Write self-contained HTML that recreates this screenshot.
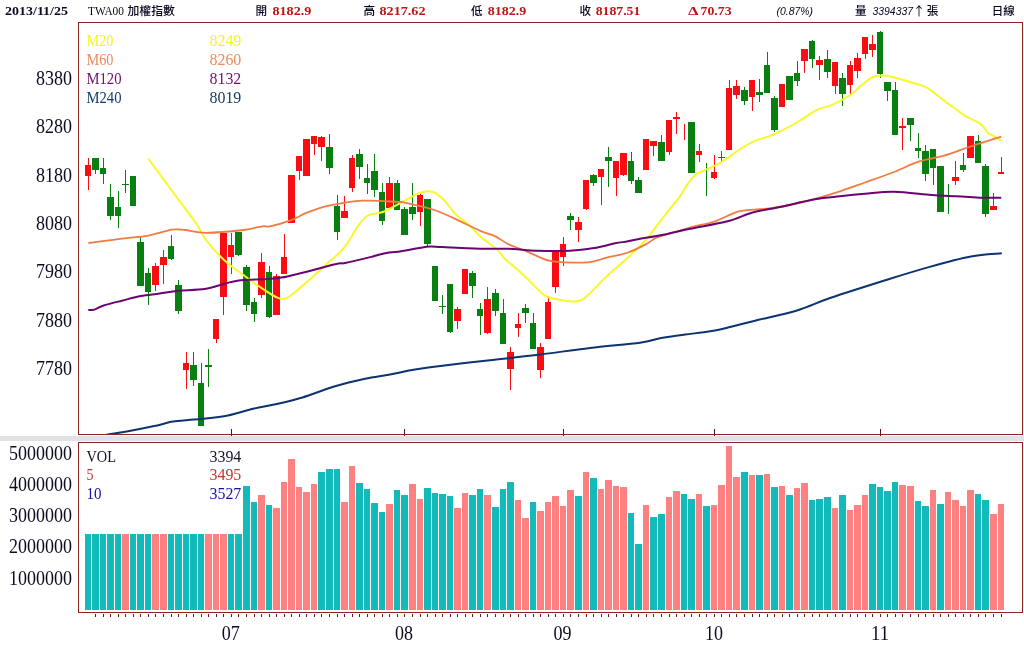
<!DOCTYPE html>
<html lang="zh-Hant"><head><meta charset="utf-8"><title>TWA00 加權指數 日線</title>
<style>html,body{margin:0;padding:0;background:#fff;}body{width:1024px;height:662px;overflow:hidden;}svg{display:block;}text{font-family:"Liberation Serif","Noto Serif CJK SC","Noto Sans CJK TC",serif;}.ax{font-size:20.5px;fill:#0c0c22;}.hb{font-size:13px;font-weight:bold;}.hc{font-size:11.6px;font-weight:500;fill:#06061e;font-family:"Liberation Serif","Noto Sans CJK TC","Noto Serif CJK SC",serif;}.lg{font-size:16.5px;}.hs{font-family:"Liberation Sans",sans-serif;font-size:10.8px;fill:#06061e;}</style></head><body>
<svg width="1024" height="662" viewBox="0 0 1024 662">
<rect x="0" y="0" width="1024" height="662" fill="#ffffff"/>
<rect x="0" y="436" width="1024" height="5" fill="#e2e2e4" shape-rendering="crispEdges"/>
<g id="header">
<text class="hb" x="5" y="15" fill="#0c0c24" textLength="63" lengthAdjust="spacingAndGlyphs">2013/11/25</text>
<text class="hc" x="88" y="15" textLength="36" lengthAdjust="spacingAndGlyphs">TWA00</text>
<text class="hc" x="127.5" y="15" textLength="47.5" lengthAdjust="spacingAndGlyphs">加權指數</text>
<text class="hc" x="255.5" y="15">開</text>
<text class="hb" x="272.5" y="15" fill="#c01414" textLength="38.8" lengthAdjust="spacingAndGlyphs">8182.9</text>
<text class="hc" x="363.5" y="15">高</text>
<text class="hb" x="379.5" y="15" fill="#c01414" textLength="46" lengthAdjust="spacingAndGlyphs">8217.62</text>
<text class="hc" x="471" y="15">低</text>
<text class="hb" x="487.7" y="15" fill="#c01414" textLength="38.5" lengthAdjust="spacingAndGlyphs">8182.9</text>
<text class="hc" x="579.5" y="15">收</text>
<text class="hb" x="595.7" y="15" fill="#c01414" textLength="44.6" lengthAdjust="spacingAndGlyphs">8187.51</text>
<text class="hb" x="688" y="15" fill="#c01414" style="font-size:12px" textLength="10.5" lengthAdjust="spacingAndGlyphs">Δ</text>
<text class="hb" x="700.6" y="15" fill="#c01414" textLength="31" lengthAdjust="spacingAndGlyphs">70.73</text>
<text class="hs" x="776.5" y="15" font-style="italic" textLength="36.5" lengthAdjust="spacingAndGlyphs">(0.87%)</text>
<text class="hc" x="855" y="15">量</text>
<text class="hs" x="872.5" y="15" font-style="italic" textLength="40.5" lengthAdjust="spacingAndGlyphs">3394337</text>
<text x="919" y="15.5" text-anchor="middle" style="font-family:'Noto Sans CJK TC','Noto Sans CJK SC',sans-serif;font-size:12.5px;fill:#06061e">↑</text>
<text class="hc" x="926.7" y="15">張</text>
<text class="hc" x="991.7" y="15" textLength="23" lengthAdjust="spacingAndGlyphs">日線</text>
</g>
<g id="yaxis" class="ax" text-anchor="end">
<text x="72" y="85.0" textLength="36" lengthAdjust="spacingAndGlyphs">8380</text>
<text x="72" y="133.3" textLength="36" lengthAdjust="spacingAndGlyphs">8280</text>
<text x="72" y="181.6" textLength="36" lengthAdjust="spacingAndGlyphs">8180</text>
<text x="72" y="229.9" textLength="36" lengthAdjust="spacingAndGlyphs">8080</text>
<text x="72" y="278.2" textLength="36" lengthAdjust="spacingAndGlyphs">7980</text>
<text x="72" y="326.5" textLength="36" lengthAdjust="spacingAndGlyphs">7880</text>
<text x="72" y="374.8" textLength="36" lengthAdjust="spacingAndGlyphs">7780</text>
<text x="72" y="459.8" textLength="63" lengthAdjust="spacingAndGlyphs">5000000</text>
<text x="72" y="491.0" textLength="63" lengthAdjust="spacingAndGlyphs">4000000</text>
<text x="72" y="522.2" textLength="63" lengthAdjust="spacingAndGlyphs">3000000</text>
<text x="72" y="553.4" textLength="63" lengthAdjust="spacingAndGlyphs">2000000</text>
<text x="72" y="584.6" textLength="63" lengthAdjust="spacingAndGlyphs">1000000</text>
</g>
<g id="xaxis" class="ax" text-anchor="middle">
<text x="230.8" y="639.8" textLength="18" lengthAdjust="spacingAndGlyphs">07</text>
<text x="404" y="639.8" textLength="18" lengthAdjust="spacingAndGlyphs">08</text>
<text x="562.5" y="639.8" textLength="18" lengthAdjust="spacingAndGlyphs">09</text>
<text x="714" y="639.8" textLength="18" lengthAdjust="spacingAndGlyphs">10</text>
<text x="880" y="639.8" textLength="18" lengthAdjust="spacingAndGlyphs">11</text>
</g>
<defs><clipPath id="cm"><rect x="79" y="23" width="943" height="411"/></clipPath></defs>
<g id="candles" shape-rendering="crispEdges">
<rect x="88" y="158" width="1" height="32" fill="#f80d12"/>
<rect x="85" y="165" width="6" height="11" fill="#f80d12"/>
<rect x="95" y="158" width="1" height="16" fill="#087f10"/>
<rect x="92" y="158" width="7" height="12" fill="#087f10"/>
<rect x="103" y="158" width="1" height="26" fill="#087f10"/>
<rect x="100" y="168" width="6" height="6" fill="#087f10"/>
<rect x="110" y="184" width="1" height="36" fill="#087f10"/>
<rect x="107" y="197" width="7" height="19" fill="#087f10"/>
<rect x="118" y="191" width="1" height="37" fill="#087f10"/>
<rect x="115" y="207" width="6" height="9" fill="#087f10"/>
<rect x="125" y="170" width="1" height="23" fill="#087f10"/>
<rect x="122" y="184" width="7" height="1" fill="#087f10"/>
<rect x="133" y="176" width="1" height="30" fill="#087f10"/>
<rect x="130" y="176" width="6" height="30" fill="#087f10"/>
<rect x="140" y="237" width="1" height="49" fill="#087f10"/>
<rect x="137" y="242" width="7" height="44" fill="#087f10"/>
<rect x="148" y="268" width="1" height="37" fill="#087f10"/>
<rect x="145" y="273" width="6" height="19" fill="#087f10"/>
<rect x="155" y="263" width="1" height="28" fill="#f80d12"/>
<rect x="152" y="266" width="7" height="19" fill="#f80d12"/>
<rect x="163" y="250" width="1" height="34" fill="#f80d12"/>
<rect x="160" y="257" width="7" height="8" fill="#f80d12"/>
<rect x="171" y="235" width="1" height="25" fill="#087f10"/>
<rect x="168" y="246" width="6" height="13" fill="#087f10"/>
<rect x="178" y="280" width="1" height="34" fill="#087f10"/>
<rect x="175" y="285" width="7" height="26" fill="#087f10"/>
<rect x="186" y="352" width="1" height="37" fill="#f80d12"/>
<rect x="183" y="363" width="6" height="7" fill="#f80d12"/>
<rect x="193" y="352" width="1" height="34" fill="#087f10"/>
<rect x="190" y="365" width="7" height="15" fill="#087f10"/>
<rect x="201" y="363" width="1" height="63" fill="#087f10"/>
<rect x="198" y="383" width="6" height="43" fill="#087f10"/>
<rect x="208" y="349" width="1" height="38" fill="#087f10"/>
<rect x="205" y="365" width="7" height="2" fill="#087f10"/>
<rect x="216" y="319" width="1" height="24" fill="#f80d12"/>
<rect x="213" y="319" width="6" height="20" fill="#f80d12"/>
<rect x="223" y="233" width="1" height="82" fill="#f80d12"/>
<rect x="220" y="233" width="7" height="64" fill="#f80d12"/>
<rect x="231" y="233" width="1" height="41" fill="#f80d12"/>
<rect x="228" y="245" width="6" height="12" fill="#f80d12"/>
<rect x="238" y="232" width="1" height="24" fill="#087f10"/>
<rect x="235" y="232" width="7" height="23" fill="#087f10"/>
<rect x="246" y="265" width="1" height="46" fill="#087f10"/>
<rect x="243" y="267" width="7" height="38" fill="#087f10"/>
<rect x="254" y="298" width="1" height="24" fill="#087f10"/>
<rect x="251" y="302" width="6" height="12" fill="#087f10"/>
<rect x="261" y="253" width="1" height="45" fill="#f80d12"/>
<rect x="258" y="262" width="7" height="33" fill="#f80d12"/>
<rect x="269" y="266" width="1" height="52" fill="#087f10"/>
<rect x="266" y="272" width="6" height="45" fill="#087f10"/>
<rect x="276" y="274" width="1" height="41" fill="#f80d12"/>
<rect x="273" y="276" width="7" height="39" fill="#f80d12"/>
<rect x="284" y="234" width="1" height="40" fill="#f80d12"/>
<rect x="281" y="257" width="6" height="17" fill="#f80d12"/>
<rect x="291" y="175" width="1" height="48" fill="#f80d12"/>
<rect x="288" y="175" width="7" height="48" fill="#f80d12"/>
<rect x="299" y="156" width="1" height="24" fill="#f80d12"/>
<rect x="296" y="156" width="6" height="15" fill="#f80d12"/>
<rect x="306" y="139" width="1" height="37" fill="#f80d12"/>
<rect x="303" y="139" width="7" height="37" fill="#f80d12"/>
<rect x="314" y="136" width="1" height="19" fill="#f80d12"/>
<rect x="311" y="136" width="6" height="8" fill="#f80d12"/>
<rect x="321" y="136" width="1" height="25" fill="#f80d12"/>
<rect x="318" y="137" width="7" height="10" fill="#f80d12"/>
<rect x="329" y="134" width="1" height="40" fill="#087f10"/>
<rect x="326" y="147" width="7" height="21" fill="#087f10"/>
<rect x="337" y="195" width="1" height="45" fill="#087f10"/>
<rect x="334" y="206" width="6" height="26" fill="#087f10"/>
<rect x="344" y="196" width="1" height="22" fill="#f80d12"/>
<rect x="341" y="211" width="7" height="7" fill="#f80d12"/>
<rect x="352" y="155" width="1" height="37" fill="#f80d12"/>
<rect x="349" y="158" width="6" height="30" fill="#f80d12"/>
<rect x="359" y="149" width="1" height="30" fill="#087f10"/>
<rect x="356" y="154" width="7" height="13" fill="#087f10"/>
<rect x="367" y="164" width="1" height="30" fill="#087f10"/>
<rect x="364" y="178" width="6" height="5" fill="#087f10"/>
<rect x="374" y="154" width="1" height="43" fill="#087f10"/>
<rect x="371" y="171" width="7" height="19" fill="#087f10"/>
<rect x="382" y="183" width="1" height="42" fill="#087f10"/>
<rect x="379" y="192" width="6" height="29" fill="#087f10"/>
<rect x="389" y="177" width="1" height="31" fill="#f80d12"/>
<rect x="386" y="183" width="7" height="25" fill="#f80d12"/>
<rect x="397" y="180" width="1" height="30" fill="#087f10"/>
<rect x="394" y="183" width="6" height="27" fill="#087f10"/>
<rect x="404" y="207" width="1" height="28" fill="#087f10"/>
<rect x="401" y="209" width="7" height="26" fill="#087f10"/>
<rect x="412" y="183" width="1" height="37" fill="#087f10"/>
<rect x="409" y="207" width="7" height="7" fill="#087f10"/>
<rect x="420" y="194" width="1" height="32" fill="#f80d12"/>
<rect x="417" y="195" width="6" height="17" fill="#f80d12"/>
<rect x="427" y="199" width="1" height="47" fill="#087f10"/>
<rect x="424" y="199" width="7" height="45" fill="#087f10"/>
<rect x="435" y="266" width="1" height="35" fill="#087f10"/>
<rect x="432" y="266" width="6" height="35" fill="#087f10"/>
<rect x="442" y="295" width="1" height="19" fill="#087f10"/>
<rect x="439" y="306" width="7" height="1" fill="#087f10"/>
<rect x="450" y="284" width="1" height="49" fill="#087f10"/>
<rect x="447" y="284" width="6" height="48" fill="#087f10"/>
<rect x="457" y="307" width="1" height="22" fill="#f80d12"/>
<rect x="454" y="309" width="7" height="12" fill="#f80d12"/>
<rect x="465" y="269" width="1" height="25" fill="#f80d12"/>
<rect x="462" y="269" width="6" height="25" fill="#f80d12"/>
<rect x="472" y="271" width="1" height="27" fill="#087f10"/>
<rect x="469" y="273" width="7" height="13" fill="#087f10"/>
<rect x="480" y="303" width="1" height="32" fill="#087f10"/>
<rect x="477" y="309" width="6" height="7" fill="#087f10"/>
<rect x="487" y="287" width="1" height="47" fill="#f80d12"/>
<rect x="484" y="299" width="7" height="34" fill="#f80d12"/>
<rect x="495" y="289" width="1" height="27" fill="#087f10"/>
<rect x="492" y="293" width="7" height="18" fill="#087f10"/>
<rect x="503" y="299" width="1" height="45" fill="#087f10"/>
<rect x="500" y="313" width="6" height="31" fill="#087f10"/>
<rect x="510" y="347" width="1" height="43" fill="#f80d12"/>
<rect x="507" y="352" width="7" height="17" fill="#f80d12"/>
<rect x="518" y="313" width="1" height="24" fill="#f80d12"/>
<rect x="515" y="324" width="6" height="4" fill="#f80d12"/>
<rect x="525" y="304" width="1" height="19" fill="#087f10"/>
<rect x="522" y="308" width="7" height="5" fill="#087f10"/>
<rect x="533" y="313" width="1" height="36" fill="#087f10"/>
<rect x="530" y="323" width="6" height="26" fill="#087f10"/>
<rect x="540" y="343" width="1" height="35" fill="#f80d12"/>
<rect x="537" y="347" width="7" height="23" fill="#f80d12"/>
<rect x="548" y="296" width="1" height="43" fill="#f80d12"/>
<rect x="545" y="302" width="6" height="37" fill="#f80d12"/>
<rect x="555" y="251" width="1" height="42" fill="#f80d12"/>
<rect x="552" y="251" width="7" height="36" fill="#f80d12"/>
<rect x="563" y="237" width="1" height="29" fill="#f80d12"/>
<rect x="560" y="244" width="6" height="13" fill="#f80d12"/>
<rect x="570" y="213" width="1" height="17" fill="#087f10"/>
<rect x="567" y="216" width="7" height="4" fill="#087f10"/>
<rect x="578" y="217" width="1" height="25" fill="#f80d12"/>
<rect x="575" y="222" width="7" height="8" fill="#f80d12"/>
<rect x="586" y="180" width="1" height="30" fill="#f80d12"/>
<rect x="583" y="180" width="6" height="29" fill="#f80d12"/>
<rect x="593" y="174" width="1" height="12" fill="#087f10"/>
<rect x="590" y="175" width="7" height="8" fill="#087f10"/>
<rect x="601" y="169" width="1" height="36" fill="#f80d12"/>
<rect x="598" y="169" width="6" height="8" fill="#f80d12"/>
<rect x="608" y="147" width="1" height="40" fill="#087f10"/>
<rect x="605" y="157" width="7" height="4" fill="#087f10"/>
<rect x="616" y="161" width="1" height="35" fill="#f80d12"/>
<rect x="613" y="161" width="6" height="17" fill="#f80d12"/>
<rect x="623" y="153" width="1" height="23" fill="#f80d12"/>
<rect x="620" y="153" width="7" height="22" fill="#f80d12"/>
<rect x="631" y="152" width="1" height="32" fill="#087f10"/>
<rect x="628" y="161" width="6" height="20" fill="#087f10"/>
<rect x="638" y="177" width="1" height="16" fill="#087f10"/>
<rect x="635" y="180" width="7" height="13" fill="#087f10"/>
<rect x="646" y="139" width="1" height="31" fill="#f80d12"/>
<rect x="643" y="139" width="6" height="31" fill="#f80d12"/>
<rect x="653" y="141" width="1" height="15" fill="#f80d12"/>
<rect x="650" y="141" width="7" height="5" fill="#f80d12"/>
<rect x="661" y="135" width="1" height="26" fill="#087f10"/>
<rect x="658" y="142" width="7" height="19" fill="#087f10"/>
<rect x="669" y="120" width="1" height="35" fill="#f80d12"/>
<rect x="666" y="120" width="6" height="32" fill="#f80d12"/>
<rect x="676" y="112" width="1" height="22" fill="#f80d12"/>
<rect x="673" y="117" width="7" height="2" fill="#f80d12"/>
<rect x="684" y="124" width="1" height="16" fill="#f80d12"/>
<rect x="691" y="122" width="1" height="51" fill="#087f10"/>
<rect x="688" y="122" width="7" height="51" fill="#087f10"/>
<rect x="699" y="144" width="1" height="18" fill="#f80d12"/>
<rect x="696" y="151" width="6" height="4" fill="#f80d12"/>
<rect x="706" y="163" width="1" height="33" fill="#087f10"/>
<rect x="714" y="155" width="1" height="24" fill="#f80d12"/>
<rect x="711" y="172" width="6" height="6" fill="#f80d12"/>
<rect x="721" y="151" width="1" height="11" fill="#f80d12"/>
<rect x="718" y="157" width="7" height="1" fill="#f80d12"/>
<rect x="729" y="80" width="1" height="70" fill="#f80d12"/>
<rect x="726" y="88" width="6" height="62" fill="#f80d12"/>
<rect x="736" y="80" width="1" height="19" fill="#f80d12"/>
<rect x="733" y="86" width="7" height="9" fill="#f80d12"/>
<rect x="744" y="87" width="1" height="18" fill="#087f10"/>
<rect x="741" y="90" width="7" height="11" fill="#087f10"/>
<rect x="752" y="80" width="1" height="31" fill="#f80d12"/>
<rect x="749" y="80" width="6" height="17" fill="#f80d12"/>
<rect x="759" y="79" width="1" height="23" fill="#087f10"/>
<rect x="756" y="92" width="7" height="3" fill="#087f10"/>
<rect x="767" y="52" width="1" height="41" fill="#087f10"/>
<rect x="764" y="65" width="6" height="28" fill="#087f10"/>
<rect x="774" y="96" width="1" height="36" fill="#087f10"/>
<rect x="771" y="98" width="7" height="32" fill="#087f10"/>
<rect x="782" y="84" width="1" height="23" fill="#f80d12"/>
<rect x="779" y="84" width="6" height="23" fill="#f80d12"/>
<rect x="789" y="76" width="1" height="24" fill="#087f10"/>
<rect x="786" y="76" width="7" height="24" fill="#087f10"/>
<rect x="797" y="61" width="1" height="25" fill="#087f10"/>
<rect x="794" y="73" width="6" height="8" fill="#087f10"/>
<rect x="804" y="49" width="1" height="24" fill="#f80d12"/>
<rect x="801" y="49" width="7" height="12" fill="#f80d12"/>
<rect x="812" y="40" width="1" height="28" fill="#087f10"/>
<rect x="809" y="41" width="6" height="18" fill="#087f10"/>
<rect x="819" y="56" width="1" height="24" fill="#f80d12"/>
<rect x="816" y="60" width="7" height="5" fill="#f80d12"/>
<rect x="827" y="50" width="1" height="28" fill="#087f10"/>
<rect x="824" y="59" width="7" height="13" fill="#087f10"/>
<rect x="835" y="62" width="1" height="32" fill="#f80d12"/>
<rect x="832" y="62" width="6" height="24" fill="#f80d12"/>
<rect x="842" y="73" width="1" height="33" fill="#087f10"/>
<rect x="839" y="78" width="7" height="16" fill="#087f10"/>
<rect x="850" y="61" width="1" height="33" fill="#f80d12"/>
<rect x="847" y="65" width="6" height="20" fill="#f80d12"/>
<rect x="857" y="53" width="1" height="25" fill="#f80d12"/>
<rect x="854" y="58" width="7" height="13" fill="#f80d12"/>
<rect x="865" y="37" width="1" height="22" fill="#f80d12"/>
<rect x="862" y="37" width="6" height="17" fill="#f80d12"/>
<rect x="872" y="35" width="1" height="22" fill="#f80d12"/>
<rect x="869" y="44" width="7" height="6" fill="#f80d12"/>
<rect x="880" y="31" width="1" height="47" fill="#087f10"/>
<rect x="877" y="32" width="6" height="42" fill="#087f10"/>
<rect x="887" y="82" width="1" height="19" fill="#087f10"/>
<rect x="884" y="82" width="7" height="9" fill="#087f10"/>
<rect x="895" y="82" width="1" height="53" fill="#087f10"/>
<rect x="892" y="90" width="6" height="45" fill="#087f10"/>
<rect x="902" y="118" width="1" height="32" fill="#f80d12"/>
<rect x="899" y="126" width="7" height="2" fill="#f80d12"/>
<rect x="910" y="118" width="1" height="23" fill="#087f10"/>
<rect x="907" y="118" width="7" height="7" fill="#087f10"/>
<rect x="918" y="133" width="1" height="25" fill="#087f10"/>
<rect x="915" y="148" width="6" height="3" fill="#087f10"/>
<rect x="925" y="145" width="1" height="36" fill="#087f10"/>
<rect x="922" y="151" width="7" height="23" fill="#087f10"/>
<rect x="933" y="149" width="1" height="36" fill="#087f10"/>
<rect x="930" y="149" width="6" height="19" fill="#087f10"/>
<rect x="940" y="166" width="1" height="46" fill="#087f10"/>
<rect x="937" y="166" width="7" height="46" fill="#087f10"/>
<rect x="948" y="184" width="1" height="30" fill="#087f10"/>
<rect x="955" y="161" width="1" height="24" fill="#f80d12"/>
<rect x="952" y="177" width="7" height="4" fill="#f80d12"/>
<rect x="963" y="153" width="1" height="19" fill="#087f10"/>
<rect x="960" y="165" width="6" height="5" fill="#087f10"/>
<rect x="970" y="136" width="1" height="22" fill="#f80d12"/>
<rect x="967" y="136" width="7" height="22" fill="#f80d12"/>
<rect x="978" y="135" width="1" height="28" fill="#087f10"/>
<rect x="975" y="141" width="6" height="22" fill="#087f10"/>
<rect x="985" y="164" width="1" height="53" fill="#087f10"/>
<rect x="982" y="166" width="7" height="48" fill="#087f10"/>
<rect x="993" y="193" width="1" height="17" fill="#f80d12"/>
<rect x="990" y="206" width="7" height="4" fill="#f80d12"/>
<rect x="1001" y="157" width="1" height="17" fill="#f80d12"/>
<rect x="998" y="172" width="6" height="2" fill="#f80d12"/>
</g>
<g id="ma" fill="none" stroke-linejoin="round" stroke-linecap="butt" clip-path="url(#cm)">
<path d="M148.2,158.5 C152.2,163.9 164.1,180.2 172.0,191.0 C179.9,201.8 190.1,214.8 195.8,223.0 C201.5,231.2 201.4,233.9 206.0,240.0 C210.6,246.1 216.8,253.3 223.5,259.5 C230.2,265.7 239.8,272.3 246.0,277.0 C252.2,281.7 256.0,284.4 261.0,287.7 C266.0,291.0 272.2,295.1 276.0,297.0 C279.8,298.9 280.8,299.6 283.7,299.0 C286.6,298.4 288.9,297.0 293.7,293.3 C298.5,289.6 306.8,282.1 312.5,277.0 C318.2,271.9 324.1,266.2 327.7,263.0 C331.3,259.8 331.1,260.4 334.0,257.6 C336.9,254.8 341.2,251.6 345.2,246.4 C349.2,241.2 354.0,231.6 357.8,226.4 C361.6,221.2 363.6,217.9 367.8,215.5 C372.0,213.1 377.6,213.9 382.8,212.0 C388.0,210.1 393.4,206.6 398.8,203.8 C404.2,201.0 410.5,197.2 415.1,195.1 C419.7,193.0 423.0,191.7 426.4,191.3 C429.8,190.9 432.1,191.1 435.2,192.8 C438.3,194.5 441.9,197.8 445.2,201.3 C448.5,204.8 451.4,210.1 455.2,213.9 C459.0,217.7 463.6,220.2 467.8,223.9 C472.0,227.7 475.3,232.0 480.3,236.4 C485.3,240.8 493.9,246.6 497.8,250.2 C501.8,253.8 501.5,255.4 504.0,258.0 C506.5,260.6 509.2,262.4 512.8,265.5 C516.3,268.6 521.1,272.8 525.3,276.8 C529.5,280.8 534.1,285.9 537.8,289.3 C541.5,292.7 542.6,295.1 547.6,297.0 C552.6,298.9 562.5,300.3 567.7,301.0 C572.9,301.7 575.6,302.0 579.0,301.0 C582.4,300.0 583.2,299.3 587.8,295.2 C592.4,291.1 599.9,282.6 606.6,276.4 C613.3,270.1 621.1,263.9 627.8,257.7 C634.5,251.4 641.4,244.8 646.6,238.9 C651.8,233.1 656.0,226.6 659.1,222.6 C662.2,218.6 661.5,219.4 665.0,215.0 C668.5,210.6 676.5,201.2 680.0,196.4 C683.5,191.7 683.9,189.6 686.0,186.5 C688.1,183.4 690.5,179.8 692.5,177.6 C694.5,175.4 695.9,174.4 698.0,173.2 C700.1,171.9 701.1,172.0 705.0,170.1 C708.9,168.2 715.1,165.8 721.4,162.0 C727.7,158.2 736.8,151.1 742.7,147.5 C748.6,143.9 751.4,142.4 756.6,140.2 C761.8,138.0 767.0,137.5 773.8,134.5 C780.6,131.5 790.5,126.1 797.6,122.0 C804.7,117.9 810.8,112.9 816.4,110.1 C822.0,107.3 825.9,107.6 831.5,105.1 C837.1,102.6 845.5,98.1 850.3,95.0 C855.1,91.9 856.5,89.4 860.3,86.4 C864.0,83.4 868.5,78.8 872.8,77.0 C877.1,75.2 880.5,75.0 886.3,75.7 C892.1,76.4 900.9,79.3 907.6,81.3 C914.3,83.3 920.1,84.2 926.4,87.6 C932.7,90.9 938.9,96.8 945.2,101.4 C951.5,106.0 958.1,111.3 964.0,115.1 C969.9,118.8 976.3,121.0 980.3,123.9 C984.3,126.8 985.7,130.7 987.8,132.7 C989.9,134.7 990.8,134.4 993.0,135.7 C995.2,137.0 999.8,139.9 1001.2,140.7" stroke="#f8f82a" stroke-width="2"/>
<path d="M88.3,243.1 C93.9,242.4 111.9,239.9 121.9,238.7 C131.9,237.4 139.8,237.1 148.2,235.6 C156.5,234.1 165.9,230.6 172.0,229.7 C178.1,228.8 179.3,229.5 185.0,230.0 C190.7,230.5 196.2,232.8 206.0,232.8 C215.8,232.8 234.2,231.1 243.6,230.0 C253.0,228.9 258.0,226.9 262.4,226.3 C266.8,225.7 265.2,227.4 270.0,226.4 C274.8,225.4 285.0,222.4 291.3,220.1 C297.6,217.8 301.1,214.8 307.6,212.3 C314.1,209.9 321.0,207.3 330.2,205.4 C339.4,203.5 351.5,201.3 362.8,200.7 C374.1,200.1 390.9,201.6 398.0,201.9 C405.1,202.2 399.3,201.5 405.1,202.8 C410.9,204.1 424.4,206.8 432.7,209.5 C441.0,212.2 447.3,215.3 455.2,218.9 C463.1,222.5 473.6,227.9 480.3,230.8 C487.0,233.7 490.7,234.2 495.3,236.4 C499.9,238.6 503.1,241.6 508.0,244.0 C513.0,246.4 520.1,248.6 525.0,250.7 C529.9,252.8 533.0,254.5 537.6,256.3 C542.2,258.1 544.3,260.3 552.7,261.3 C561.1,262.3 578.8,262.9 587.8,262.3 C596.8,261.7 599.9,259.2 606.6,257.6 C613.3,256.0 621.3,254.8 628.0,252.5 C634.7,250.2 642.1,246.3 646.6,243.9 C651.1,241.5 652.2,239.8 655.3,238.3 C658.4,236.8 659.2,236.8 665.0,235.0 C670.8,233.2 681.7,229.8 690.0,227.5 C698.3,225.2 706.9,224.0 715.0,221.3 C723.1,218.6 730.5,213.4 738.8,211.3 C747.1,209.2 756.5,209.9 765.0,208.8 C773.5,207.8 781.7,206.7 790.0,205.0 C798.3,203.3 806.7,201.1 815.0,198.8 C823.3,196.5 831.7,194.0 840.0,191.3 C848.3,188.6 856.0,185.7 865.0,182.5 C874.0,179.3 885.0,175.5 894.0,172.0 C903.0,168.5 910.8,164.1 919.1,161.4 C927.5,158.7 935.8,158.1 944.1,155.7 C952.5,153.3 959.7,150.2 969.2,147.0 C978.7,143.8 995.9,138.4 1001.2,136.7" stroke="#f07c42" stroke-width="1.8"/>
<path d="M88.3,310.1 C89.3,310.0 91.8,310.3 94.3,309.6 C96.8,308.9 98.5,307.2 103.1,305.7 C107.7,304.2 115.6,302.3 121.9,300.7 C128.2,299.1 134.4,297.2 140.7,296.0 C147.0,294.8 153.2,294.4 159.5,293.5 C165.8,292.6 170.6,291.5 178.3,290.7 C186.1,289.9 196.2,290.4 206.0,288.8 C215.8,287.2 224.8,282.7 237.3,280.8 C249.8,278.9 265.1,280.3 281.2,277.6 C297.3,274.9 323.3,266.9 334.0,264.5 C344.7,262.1 339.1,264.2 345.2,263.0 C351.2,261.8 363.4,258.8 370.3,257.1 C377.2,255.4 381.7,253.9 386.3,253.0 C390.9,252.1 392.8,252.5 398.0,251.7 C403.2,250.9 412.2,249.2 417.6,248.3 C423.0,247.4 425.9,246.7 430.1,246.5 C434.3,246.3 434.3,246.7 442.7,247.1 C451.1,247.5 469.4,248.4 480.3,248.7 C491.2,249.0 498.4,248.4 508.0,248.7 C517.5,249.0 527.2,250.4 537.6,250.7 C548.0,251.0 560.8,251.1 570.2,250.7 C579.6,250.3 586.5,249.3 594.0,248.1 C601.5,246.9 609.5,244.4 615.2,243.3 C620.9,242.2 623.9,242.1 628.0,241.3 C632.1,240.6 633.8,239.9 640.0,238.8 C646.2,237.7 656.7,236.2 665.0,234.5 C673.3,232.8 679.6,231.0 690.0,228.8 C700.4,226.6 717.1,224.0 727.5,221.3 C737.9,218.6 744.2,214.8 752.5,212.5 C760.8,210.2 767.1,209.7 777.5,207.5 C787.9,205.3 804.6,201.2 815.0,199.3 C825.4,197.4 831.7,197.2 840.0,196.3 C848.3,195.4 856.0,194.6 865.0,193.8 C874.0,193.0 882.9,191.5 894.0,191.7 C905.1,191.9 921.1,194.2 931.6,195.0 C942.1,195.8 948.3,195.8 956.7,196.2 C965.1,196.6 974.4,197.4 981.8,197.7 C989.2,198.0 998.0,197.8 1001.2,197.8" stroke="#6a0470" stroke-width="2"/>
<path d="M100.0,436.0 C101.3,435.8 103.3,435.3 108.0,434.5 C112.7,433.7 120.5,432.7 128.0,431.3 C135.5,429.9 145.5,427.9 153.0,426.3 C160.5,424.7 167.2,422.7 173.0,421.6 C178.8,420.6 183.0,420.5 188.0,420.0 C193.0,419.5 196.3,419.6 203.0,418.8 C209.7,418.1 219.7,417.2 228.0,415.5 C236.3,413.8 244.7,410.8 253.0,408.8 C261.3,406.9 269.8,405.7 278.0,403.8 C286.2,401.9 293.0,400.4 302.5,397.5 C312.0,394.6 324.6,389.4 335.0,386.3 C345.4,383.2 355.8,380.8 365.0,378.8 C374.2,376.8 381.7,376.1 390.0,374.5 C398.3,372.9 404.6,371.2 415.0,369.5 C425.4,367.8 440.0,366.0 452.5,364.5 C465.0,363.0 475.4,362.0 490.0,360.3 C504.6,358.6 523.4,356.6 540.1,354.5 C556.8,352.4 573.4,350.0 590.0,348.0 C606.6,346.0 628.3,344.3 640.0,342.7 C651.7,341.1 652.5,339.6 660.0,338.2 C667.5,336.8 676.7,335.6 685.0,334.5 C693.3,333.4 702.5,332.6 710.0,331.3 C717.5,330.1 722.5,328.8 730.0,327.0 C737.5,325.2 743.7,323.5 755.0,320.7 C766.3,317.9 785.2,314.0 797.8,310.2 C810.4,306.4 815.7,302.9 830.8,297.8 C845.9,292.7 872.0,284.5 888.5,279.3 C905.0,274.1 916.0,270.7 929.7,266.9 C943.4,263.1 958.9,258.9 970.9,256.6 C982.9,254.3 996.6,253.9 1001.8,253.3" stroke="#0c3470" stroke-width="2"/>
</g>
<g id="mticks" shape-rendering="crispEdges">
<rect x="231" y="429" width="1" height="7" fill="#5a1010"/>
<rect x="404" y="429" width="1" height="7" fill="#5a1010"/>
<rect x="563" y="429" width="1" height="7" fill="#5a1010"/>
<rect x="714" y="429" width="1" height="7" fill="#5a1010"/>
<rect x="880" y="429" width="1" height="7" fill="#5a1010"/>
</g>
<g id="vol" shape-rendering="crispEdges">
<rect x="85" y="534" width="6" height="76" fill="#12baba"/>
<rect x="92" y="534" width="7" height="76" fill="#12baba"/>
<rect x="100" y="534" width="6" height="76" fill="#12baba"/>
<rect x="107" y="534" width="7" height="76" fill="#12baba"/>
<rect x="115" y="534" width="6" height="76" fill="#12baba"/>
<rect x="122" y="534" width="7" height="76" fill="#ff8080"/>
<rect x="130" y="534" width="6" height="76" fill="#12baba"/>
<rect x="137" y="534" width="7" height="76" fill="#12baba"/>
<rect x="145" y="534" width="6" height="76" fill="#12baba"/>
<rect x="152" y="534" width="7" height="76" fill="#ff8080"/>
<rect x="160" y="534" width="7" height="76" fill="#ff8080"/>
<rect x="168" y="534" width="6" height="76" fill="#12baba"/>
<rect x="175" y="534" width="7" height="76" fill="#12baba"/>
<rect x="183" y="534" width="6" height="76" fill="#12baba"/>
<rect x="190" y="534" width="7" height="76" fill="#12baba"/>
<rect x="198" y="534" width="6" height="76" fill="#12baba"/>
<rect x="205" y="534" width="7" height="76" fill="#ff8080"/>
<rect x="213" y="534" width="6" height="76" fill="#ff8080"/>
<rect x="220" y="534" width="7" height="76" fill="#ff8080"/>
<rect x="228" y="534" width="6" height="76" fill="#12baba"/>
<rect x="235" y="534" width="7" height="76" fill="#12baba"/>
<rect x="243" y="486" width="7" height="124" fill="#12baba"/>
<rect x="251" y="502" width="6" height="108" fill="#12baba"/>
<rect x="258" y="495" width="7" height="115" fill="#ff8080"/>
<rect x="266" y="505" width="6" height="105" fill="#12baba"/>
<rect x="273" y="508" width="7" height="102" fill="#ff8080"/>
<rect x="281" y="482" width="6" height="128" fill="#ff8080"/>
<rect x="288" y="459" width="7" height="151" fill="#ff8080"/>
<rect x="296" y="487" width="6" height="123" fill="#ff8080"/>
<rect x="303" y="492" width="7" height="118" fill="#ff8080"/>
<rect x="311" y="484" width="6" height="126" fill="#ff8080"/>
<rect x="318" y="472" width="7" height="138" fill="#12baba"/>
<rect x="326" y="469" width="7" height="141" fill="#12baba"/>
<rect x="334" y="469" width="6" height="141" fill="#12baba"/>
<rect x="341" y="502" width="7" height="108" fill="#ff8080"/>
<rect x="349" y="466" width="6" height="144" fill="#ff8080"/>
<rect x="356" y="483" width="7" height="127" fill="#12baba"/>
<rect x="364" y="489" width="6" height="121" fill="#12baba"/>
<rect x="371" y="503" width="7" height="107" fill="#12baba"/>
<rect x="379" y="512" width="6" height="98" fill="#12baba"/>
<rect x="386" y="504" width="7" height="106" fill="#ff8080"/>
<rect x="394" y="490" width="6" height="120" fill="#12baba"/>
<rect x="401" y="495" width="7" height="115" fill="#12baba"/>
<rect x="409" y="484" width="7" height="126" fill="#ff8080"/>
<rect x="417" y="499" width="6" height="111" fill="#ff8080"/>
<rect x="424" y="488" width="7" height="122" fill="#12baba"/>
<rect x="432" y="493" width="6" height="117" fill="#12baba"/>
<rect x="439" y="494" width="7" height="116" fill="#12baba"/>
<rect x="447" y="496" width="6" height="114" fill="#12baba"/>
<rect x="454" y="508" width="7" height="102" fill="#ff8080"/>
<rect x="462" y="493" width="6" height="117" fill="#ff8080"/>
<rect x="469" y="495" width="7" height="115" fill="#12baba"/>
<rect x="477" y="489" width="6" height="121" fill="#12baba"/>
<rect x="484" y="495" width="7" height="115" fill="#ff8080"/>
<rect x="492" y="507" width="7" height="103" fill="#12baba"/>
<rect x="500" y="489" width="6" height="121" fill="#12baba"/>
<rect x="507" y="482" width="7" height="128" fill="#12baba"/>
<rect x="515" y="500" width="6" height="110" fill="#ff8080"/>
<rect x="522" y="518" width="7" height="92" fill="#ff8080"/>
<rect x="530" y="502" width="6" height="108" fill="#12baba"/>
<rect x="537" y="511" width="7" height="99" fill="#ff8080"/>
<rect x="545" y="502" width="6" height="108" fill="#ff8080"/>
<rect x="552" y="496" width="7" height="114" fill="#ff8080"/>
<rect x="560" y="506" width="6" height="104" fill="#ff8080"/>
<rect x="567" y="490" width="7" height="120" fill="#ff8080"/>
<rect x="575" y="496" width="7" height="114" fill="#12baba"/>
<rect x="583" y="472" width="6" height="138" fill="#ff8080"/>
<rect x="590" y="478" width="7" height="132" fill="#12baba"/>
<rect x="598" y="489" width="6" height="121" fill="#ff8080"/>
<rect x="605" y="480" width="7" height="130" fill="#ff8080"/>
<rect x="613" y="486" width="6" height="124" fill="#ff8080"/>
<rect x="620" y="487" width="7" height="123" fill="#ff8080"/>
<rect x="628" y="513" width="6" height="97" fill="#12baba"/>
<rect x="635" y="544" width="7" height="66" fill="#12baba"/>
<rect x="643" y="505" width="6" height="105" fill="#ff8080"/>
<rect x="650" y="517" width="7" height="93" fill="#12baba"/>
<rect x="658" y="514" width="7" height="96" fill="#12baba"/>
<rect x="666" y="497" width="6" height="113" fill="#ff8080"/>
<rect x="673" y="491" width="7" height="119" fill="#ff8080"/>
<rect x="681" y="494" width="6" height="116" fill="#12baba"/>
<rect x="688" y="499" width="7" height="111" fill="#12baba"/>
<rect x="696" y="494" width="6" height="116" fill="#ff8080"/>
<rect x="703" y="506" width="7" height="104" fill="#12baba"/>
<rect x="711" y="505" width="6" height="105" fill="#ff8080"/>
<rect x="718" y="485" width="7" height="125" fill="#ff8080"/>
<rect x="726" y="446" width="6" height="164" fill="#ff8080"/>
<rect x="733" y="477" width="7" height="133" fill="#ff8080"/>
<rect x="741" y="472" width="7" height="138" fill="#12baba"/>
<rect x="749" y="475" width="6" height="135" fill="#ff8080"/>
<rect x="756" y="475" width="7" height="135" fill="#12baba"/>
<rect x="764" y="474" width="6" height="136" fill="#ff8080"/>
<rect x="771" y="487" width="7" height="123" fill="#12baba"/>
<rect x="779" y="486" width="6" height="124" fill="#ff8080"/>
<rect x="786" y="495" width="7" height="115" fill="#12baba"/>
<rect x="794" y="488" width="6" height="122" fill="#ff8080"/>
<rect x="801" y="483" width="7" height="127" fill="#ff8080"/>
<rect x="809" y="500" width="6" height="110" fill="#12baba"/>
<rect x="816" y="499" width="7" height="111" fill="#12baba"/>
<rect x="824" y="497" width="7" height="113" fill="#12baba"/>
<rect x="832" y="508" width="6" height="102" fill="#ff8080"/>
<rect x="839" y="495" width="7" height="115" fill="#12baba"/>
<rect x="847" y="510" width="6" height="100" fill="#ff8080"/>
<rect x="854" y="505" width="7" height="105" fill="#ff8080"/>
<rect x="862" y="495" width="6" height="115" fill="#ff8080"/>
<rect x="869" y="484" width="7" height="126" fill="#12baba"/>
<rect x="877" y="487" width="6" height="123" fill="#12baba"/>
<rect x="884" y="491" width="7" height="119" fill="#12baba"/>
<rect x="892" y="482" width="6" height="128" fill="#12baba"/>
<rect x="899" y="485" width="7" height="125" fill="#ff8080"/>
<rect x="907" y="486" width="7" height="124" fill="#ff8080"/>
<rect x="915" y="501" width="6" height="109" fill="#12baba"/>
<rect x="922" y="506" width="7" height="104" fill="#12baba"/>
<rect x="930" y="490" width="6" height="120" fill="#ff8080"/>
<rect x="937" y="504" width="7" height="106" fill="#12baba"/>
<rect x="945" y="492" width="6" height="118" fill="#ff8080"/>
<rect x="952" y="500" width="7" height="110" fill="#ff8080"/>
<rect x="960" y="506" width="6" height="104" fill="#ff8080"/>
<rect x="967" y="490" width="7" height="120" fill="#ff8080"/>
<rect x="975" y="494" width="6" height="116" fill="#12baba"/>
<rect x="982" y="500" width="7" height="110" fill="#12baba"/>
<rect x="990" y="514" width="7" height="96" fill="#ff8080"/>
<rect x="998" y="504" width="6" height="106" fill="#ff8080"/>
</g>
<g id="frames" fill="none" stroke="#8e2424" stroke-width="1" shape-rendering="crispEdges">
<rect x="78.5" y="22.5" width="944" height="412"/>
<rect x="78.5" y="442.5" width="944" height="170"/>
</g>
<g id="ticks" shape-rendering="crispEdges">
<rect x="95" y="614" width="1" height="3" fill="#6a1a1a"/>
<rect x="103" y="614" width="1" height="3" fill="#6a1a1a"/>
<rect x="110" y="614" width="1" height="3" fill="#6a1a1a"/>
<rect x="118" y="614" width="1" height="3" fill="#6a1a1a"/>
<rect x="125" y="614" width="1" height="3" fill="#6a1a1a"/>
<rect x="133" y="614" width="1" height="3" fill="#6a1a1a"/>
<rect x="140" y="614" width="1" height="3" fill="#6a1a1a"/>
<rect x="148" y="614" width="1" height="3" fill="#6a1a1a"/>
<rect x="155" y="614" width="1" height="3" fill="#6a1a1a"/>
<rect x="163" y="614" width="1" height="3" fill="#6a1a1a"/>
<rect x="171" y="614" width="1" height="3" fill="#6a1a1a"/>
<rect x="178" y="614" width="1" height="3" fill="#6a1a1a"/>
<rect x="186" y="614" width="1" height="3" fill="#6a1a1a"/>
<rect x="193" y="614" width="1" height="3" fill="#6a1a1a"/>
<rect x="201" y="614" width="1" height="3" fill="#6a1a1a"/>
<rect x="208" y="614" width="1" height="3" fill="#6a1a1a"/>
<rect x="216" y="614" width="1" height="3" fill="#6a1a1a"/>
<rect x="223" y="614" width="1" height="3" fill="#6a1a1a"/>
<rect x="231" y="614" width="1" height="3" fill="#6a1a1a"/>
<rect x="238" y="614" width="1" height="3" fill="#6a1a1a"/>
<rect x="246" y="614" width="1" height="3" fill="#6a1a1a"/>
<rect x="254" y="614" width="1" height="3" fill="#6a1a1a"/>
<rect x="261" y="614" width="1" height="3" fill="#6a1a1a"/>
<rect x="269" y="614" width="1" height="3" fill="#6a1a1a"/>
<rect x="276" y="614" width="1" height="3" fill="#6a1a1a"/>
<rect x="284" y="614" width="1" height="3" fill="#6a1a1a"/>
<rect x="291" y="614" width="1" height="3" fill="#6a1a1a"/>
<rect x="299" y="614" width="1" height="3" fill="#6a1a1a"/>
<rect x="306" y="614" width="1" height="3" fill="#6a1a1a"/>
<rect x="314" y="614" width="1" height="3" fill="#6a1a1a"/>
<rect x="321" y="614" width="1" height="3" fill="#6a1a1a"/>
<rect x="329" y="614" width="1" height="3" fill="#6a1a1a"/>
<rect x="337" y="614" width="1" height="3" fill="#6a1a1a"/>
<rect x="344" y="614" width="1" height="3" fill="#6a1a1a"/>
<rect x="352" y="614" width="1" height="3" fill="#6a1a1a"/>
<rect x="359" y="614" width="1" height="3" fill="#6a1a1a"/>
<rect x="367" y="614" width="1" height="3" fill="#6a1a1a"/>
<rect x="374" y="614" width="1" height="3" fill="#6a1a1a"/>
<rect x="382" y="614" width="1" height="3" fill="#6a1a1a"/>
<rect x="389" y="614" width="1" height="3" fill="#6a1a1a"/>
<rect x="397" y="614" width="1" height="3" fill="#6a1a1a"/>
<rect x="404" y="614" width="1" height="3" fill="#6a1a1a"/>
<rect x="412" y="614" width="1" height="3" fill="#6a1a1a"/>
<rect x="420" y="614" width="1" height="3" fill="#6a1a1a"/>
<rect x="427" y="614" width="1" height="3" fill="#6a1a1a"/>
<rect x="435" y="614" width="1" height="3" fill="#6a1a1a"/>
<rect x="442" y="614" width="1" height="3" fill="#6a1a1a"/>
<rect x="450" y="614" width="1" height="3" fill="#6a1a1a"/>
<rect x="457" y="614" width="1" height="3" fill="#6a1a1a"/>
<rect x="465" y="614" width="1" height="3" fill="#6a1a1a"/>
<rect x="472" y="614" width="1" height="3" fill="#6a1a1a"/>
<rect x="480" y="614" width="1" height="3" fill="#6a1a1a"/>
<rect x="487" y="614" width="1" height="3" fill="#6a1a1a"/>
<rect x="495" y="614" width="1" height="3" fill="#6a1a1a"/>
<rect x="503" y="614" width="1" height="3" fill="#6a1a1a"/>
<rect x="510" y="614" width="1" height="3" fill="#6a1a1a"/>
<rect x="518" y="614" width="1" height="3" fill="#6a1a1a"/>
<rect x="525" y="614" width="1" height="3" fill="#6a1a1a"/>
<rect x="533" y="614" width="1" height="3" fill="#6a1a1a"/>
<rect x="540" y="614" width="1" height="3" fill="#6a1a1a"/>
<rect x="548" y="614" width="1" height="3" fill="#6a1a1a"/>
<rect x="555" y="614" width="1" height="3" fill="#6a1a1a"/>
<rect x="563" y="614" width="1" height="3" fill="#6a1a1a"/>
<rect x="570" y="614" width="1" height="3" fill="#6a1a1a"/>
<rect x="578" y="614" width="1" height="3" fill="#6a1a1a"/>
<rect x="586" y="614" width="1" height="3" fill="#6a1a1a"/>
<rect x="593" y="614" width="1" height="3" fill="#6a1a1a"/>
<rect x="601" y="614" width="1" height="3" fill="#6a1a1a"/>
<rect x="608" y="614" width="1" height="3" fill="#6a1a1a"/>
<rect x="616" y="614" width="1" height="3" fill="#6a1a1a"/>
<rect x="623" y="614" width="1" height="3" fill="#6a1a1a"/>
<rect x="631" y="614" width="1" height="3" fill="#6a1a1a"/>
<rect x="638" y="614" width="1" height="3" fill="#6a1a1a"/>
<rect x="646" y="614" width="1" height="3" fill="#6a1a1a"/>
<rect x="653" y="614" width="1" height="3" fill="#6a1a1a"/>
<rect x="661" y="614" width="1" height="3" fill="#6a1a1a"/>
<rect x="669" y="614" width="1" height="3" fill="#6a1a1a"/>
<rect x="676" y="614" width="1" height="3" fill="#6a1a1a"/>
<rect x="684" y="614" width="1" height="3" fill="#6a1a1a"/>
<rect x="691" y="614" width="1" height="3" fill="#6a1a1a"/>
<rect x="699" y="614" width="1" height="3" fill="#6a1a1a"/>
<rect x="706" y="614" width="1" height="3" fill="#6a1a1a"/>
<rect x="714" y="614" width="1" height="3" fill="#6a1a1a"/>
<rect x="721" y="614" width="1" height="3" fill="#6a1a1a"/>
<rect x="729" y="614" width="1" height="3" fill="#6a1a1a"/>
<rect x="736" y="614" width="1" height="3" fill="#6a1a1a"/>
<rect x="744" y="614" width="1" height="3" fill="#6a1a1a"/>
<rect x="752" y="614" width="1" height="3" fill="#6a1a1a"/>
<rect x="759" y="614" width="1" height="3" fill="#6a1a1a"/>
<rect x="767" y="614" width="1" height="3" fill="#6a1a1a"/>
<rect x="774" y="614" width="1" height="3" fill="#6a1a1a"/>
<rect x="782" y="614" width="1" height="3" fill="#6a1a1a"/>
<rect x="789" y="614" width="1" height="3" fill="#6a1a1a"/>
<rect x="797" y="614" width="1" height="3" fill="#6a1a1a"/>
<rect x="804" y="614" width="1" height="3" fill="#6a1a1a"/>
<rect x="812" y="614" width="1" height="3" fill="#6a1a1a"/>
<rect x="819" y="614" width="1" height="3" fill="#6a1a1a"/>
<rect x="827" y="614" width="1" height="3" fill="#6a1a1a"/>
<rect x="835" y="614" width="1" height="3" fill="#6a1a1a"/>
<rect x="842" y="614" width="1" height="3" fill="#6a1a1a"/>
<rect x="850" y="614" width="1" height="3" fill="#6a1a1a"/>
<rect x="857" y="614" width="1" height="3" fill="#6a1a1a"/>
<rect x="865" y="614" width="1" height="3" fill="#6a1a1a"/>
<rect x="872" y="614" width="1" height="3" fill="#6a1a1a"/>
<rect x="880" y="614" width="1" height="3" fill="#6a1a1a"/>
<rect x="887" y="614" width="1" height="3" fill="#6a1a1a"/>
<rect x="895" y="614" width="1" height="3" fill="#6a1a1a"/>
<rect x="902" y="614" width="1" height="3" fill="#6a1a1a"/>
<rect x="910" y="614" width="1" height="3" fill="#6a1a1a"/>
<rect x="918" y="614" width="1" height="3" fill="#6a1a1a"/>
<rect x="925" y="614" width="1" height="3" fill="#6a1a1a"/>
<rect x="933" y="614" width="1" height="3" fill="#6a1a1a"/>
<rect x="940" y="614" width="1" height="3" fill="#6a1a1a"/>
<rect x="948" y="614" width="1" height="3" fill="#6a1a1a"/>
<rect x="955" y="614" width="1" height="3" fill="#6a1a1a"/>
<rect x="963" y="614" width="1" height="3" fill="#6a1a1a"/>
<rect x="970" y="614" width="1" height="3" fill="#6a1a1a"/>
<rect x="978" y="614" width="1" height="3" fill="#6a1a1a"/>
<rect x="985" y="614" width="1" height="3" fill="#6a1a1a"/>
<rect x="993" y="614" width="1" height="3" fill="#6a1a1a"/>
<rect x="1001" y="614" width="1" height="3" fill="#6a1a1a"/>
</g>
<g id="legend" class="lg">
<text x="86.5" y="45.6" fill="#f4f420" textLength="27" lengthAdjust="spacingAndGlyphs">M20</text>
<text x="209.5" y="45.6" fill="#f4f420" textLength="31.8" lengthAdjust="spacingAndGlyphs">8249</text>
<text x="86.5" y="64.7" fill="#ec8a5c" textLength="27" lengthAdjust="spacingAndGlyphs">M60</text>
<text x="209.5" y="64.7" fill="#ec8a5c" textLength="31.8" lengthAdjust="spacingAndGlyphs">8260</text>
<text x="86.5" y="83.8" fill="#701070" textLength="35" lengthAdjust="spacingAndGlyphs">M120</text>
<text x="209.5" y="83.8" fill="#701070" textLength="31.8" lengthAdjust="spacingAndGlyphs">8132</text>
<text x="86.5" y="102.9" fill="#143c68" textLength="35" lengthAdjust="spacingAndGlyphs">M240</text>
<text x="209.5" y="102.9" fill="#143c68" textLength="31.8" lengthAdjust="spacingAndGlyphs">8019</text>
<text x="86.5" y="462.1" fill="#14142a" textLength="29.5" lengthAdjust="spacingAndGlyphs">VOL</text>
<text x="209.5" y="462.1" fill="#14142a" textLength="31.8" lengthAdjust="spacingAndGlyphs">3394</text>
<text x="86.5" y="480.2" fill="#c43434" textLength="7" lengthAdjust="spacingAndGlyphs">5</text>
<text x="209.5" y="480.2" fill="#c43434" textLength="31.8" lengthAdjust="spacingAndGlyphs">3495</text>
<text x="86.5" y="499.1" fill="#1414a0" textLength="15" lengthAdjust="spacingAndGlyphs">10</text>
<text x="209.5" y="499.1" fill="#1414a0" textLength="31.8" lengthAdjust="spacingAndGlyphs">3527</text>
</g>
</svg></body></html>
